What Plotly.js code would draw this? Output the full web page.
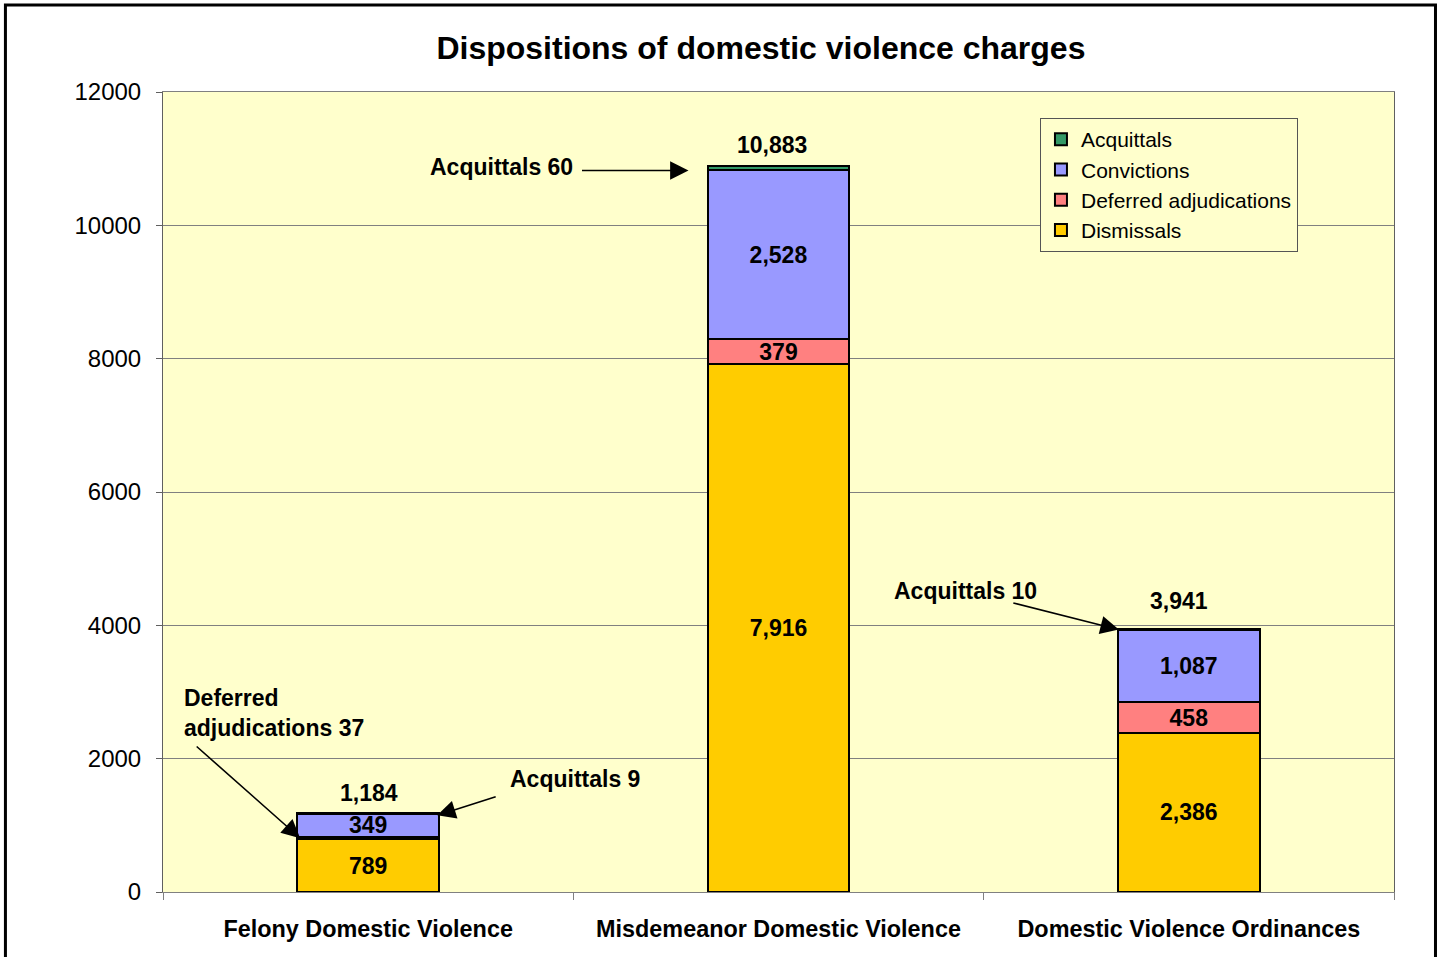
<!DOCTYPE html>
<html><head><meta charset="utf-8">
<script src="https://cdn.plot.ly/plotly-3.0.1.min.js"></script>
<style>html,body{margin:0;padding:0;background:#fff}#chart{width:1445px;height:957px}</style>
</head><body><div id="chart"></div>
<script>
const categories = ['Felony Domestic Violence', 'Misdemeanor Domestic Violence', 'Domestic Violence Ordinances'];
const dismissals = [789, 7916, 2386];
const deferred = [37, 379, 458];
const convictions = [349, 2528, 1087];
const acquittals = [9, 60, 10];
const totals = [1184, 10883, 3941];
const yTickVals = [0, 2000, 4000, 6000, 8000, 10000, 12000];
const showDeferredLabel = [false, true, true];

const FONT = 'Liberation Sans, Arial, sans-serif';
const fmt = v => v.toLocaleString('en-US');

function barTrace(name, values, color, labels) {
  return {
    type: 'bar', name: name, x: categories, y: values,
    marker: {color: color, line: {color: '#000', width: 2}},
    text: labels, textposition: 'inside', insidetextanchor: 'middle',
    textangle: 0, constraintext: 'none',
    insidetextfont: {family: FONT, size: 23, color: '#000', weight: 'bold'},
    hoverinfo: 'skip', cliponaxis: false
  };
}

const traces = [
  barTrace('Dismissals', dismissals, '#FFCC00', dismissals.map(fmt)),
  barTrace('Deferred adjudications', deferred, '#FF8080', deferred.map((v, i) => showDeferredLabel[i] ? fmt(v) : '')),
  barTrace('Convictions', convictions, '#9999FF', convictions.map(fmt)),
  barTrace('Acquittals', acquittals, '#339966', acquittals.map(() => ''))
];

const boldFont = {family: FONT, size: 23, color: '#000', weight: 'bold'};
const annotations = [];

// totals above bars
const totalShift = [[1, 20], [-7, 21], [-10, 28]];
totals.forEach((t, i) => {
  annotations.push({x: categories[i], y: t, text: fmt(t), showarrow: false,
    xshift: totalShift[i][0], yshift: totalShift[i][1], yanchor: 'middle', font: boldFont});
});

// anchors derived from data
const deferredMid = i => dismissals[i] + deferred[i] / 2;
const acqMid = i => dismissals[i] + deferred[i] + convictions[i] + acquittals[i] / 2;

const callouts = [
  {cat: 0, y: deferredMid(0), text: 'Deferred<br>adjudications ' + deferred[0], tip: [-68, 0], tail: [-105, -93], label: [-186, 125], anchor: 'left'},
  {cat: 0, y: acqMid(0), text: 'Acquittals ' + acquittals[0], tip: [69, -2], tail: [60, -19], label: [207, 34], anchor: 'center'},
  {cat: 1, y: acqMid(1), text: 'Acquittals ' + acquittals[1], tip: [-90, -2], tail: [-108, 0], label: [-277, 1.5], anchor: 'center'},
  {cat: 2, y: acqMid(2), text: 'Acquittals ' + acquittals[2], tip: [-70, 0], tail: [-107, -27], label: [-223, 38.6], anchor: 'center'}
];
callouts.forEach(c => {
  annotations.push({x: categories[c.cat], y: c.y, text: '', showarrow: true,
    xshift: c.tip[0], yshift: c.tip[1], ax: c.tail[0], ay: c.tail[1],
    arrowhead: 2, arrowsize: 2.3, arrowwidth: 1.6, arrowcolor: '#000', standoff: 0});
  annotations.push({x: categories[c.cat], y: c.y, text: c.text, showarrow: false,
    xshift: c.label[0], yshift: c.label[1], xanchor: c.anchor, yanchor: 'middle',
    align: 'left', font: boldFont});
});

const layout = {
  width: 1445, height: 957,
  margin: {l: 163, r: 51, t: 92, b: 65},
  paper_bgcolor: '#fff', plot_bgcolor: '#FFFFCC',
  barmode: 'stack', bargap: 0.654,
  font: {family: FONT, color: '#000'},
  title: {text: 'Dispositions of domestic violence charges', x: 0.5266, xref: 'container', xanchor: 'center',
    y: 1 - 48 / 957, yref: 'container', yanchor: 'middle',
    font: {family: FONT, size: 32, color: '#000', weight: 'bold'}},
  xaxis: {type: 'category', range: [-0.5, 2.5], showgrid: false, showline: true, linecolor: '#808080', linewidth: 1,
    mirror: true, ticks: 'outside', tickson: 'boundaries', ticklen: 7, tickcolor: '#808080',
    tickfont: {family: FONT, size: 23.4, color: '#000', weight: 'bold'}, ticklabelstandoff: 16, automargin: false, fixedrange: true},
  yaxis: {range: [0, 12000], tickvals: yTickVals, tickformat: 'd', showgrid: true, gridcolor: '#808080', gridwidth: 1,
    showline: true, linecolor: '#606060', linewidth: 1, mirror: true, ticks: 'outside', ticklen: 6, tickcolor: '#606060',
    zeroline: false, tickfont: {family: FONT, size: 24, color: '#000'}, ticklabelstandoff: 10, automargin: false, fixedrange: true},
  legend: {x: 0.7124, y: 0.9675, xanchor: 'left', yanchor: 'top', traceorder: 'reversed',
    bgcolor: '#FFFFCC', bordercolor: '#555', borderwidth: 1, tracegroupgap: 0,
    font: {family: FONT, size: 21, color: '#000'}, itemwidth: 30},
  annotations: annotations,
  shapes: [{type: 'rect', xref: 'paper', yref: 'paper', x0: -0.128, x1: 1.0337, y0: -0.2, y1: 1.1088,
    line: {color: '#000', width: 3}, fillcolor: 'rgba(0,0,0,0)', layer: 'above'}],
  showlegend: true
};

Plotly.newPlot('chart', traces, layout, {displayModeBar: false, staticPlot: true});
</script>
</body></html>
